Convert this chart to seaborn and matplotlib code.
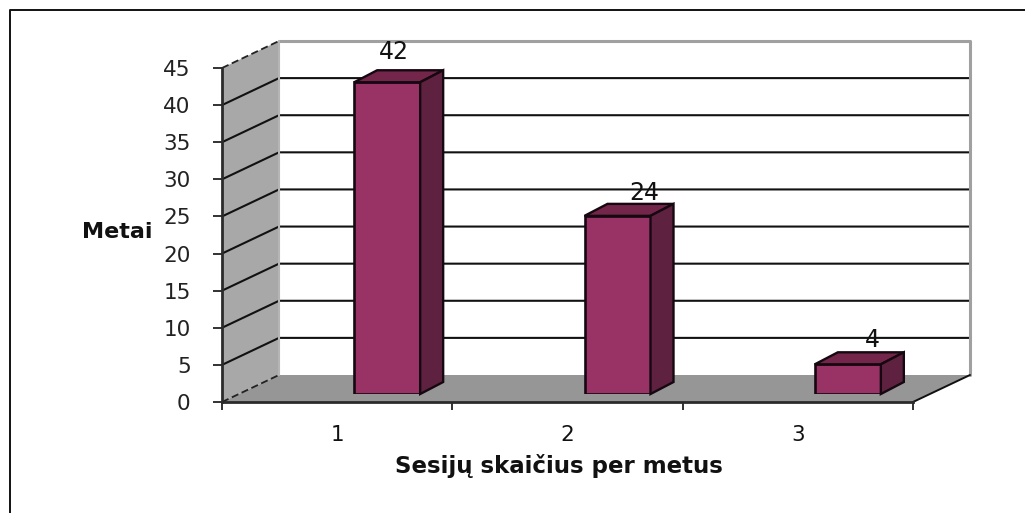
import numpy as np
import pandas as pd
import matplotlib.pyplot as plt
from matplotlib.lines import Line2D
from matplotlib.patches import Polygon
import seaborn as sns

# Data
sessions = ["1", "2", "3"]
years = [42, 24, 4]
y_ticks = [0, 5, 10, 15, 20, 25, 30, 35, 40, 45]

W, H = 1025, 513


def fig_box(left, right, bottom, top):
    # pixel box (from image top) to figure fractions
    return [left / W, (H - bottom) / H, (right - left) / W, (bottom - top) / H]


def main():
    sns.set_theme(style="white")
    plt.rcParams["font.family"] = ["DejaVu Sans"]
    df = pd.DataFrame({"sessions": sessions, "years": years})

    fig = plt.figure(figsize=(W / 100, H / 100), dpi=100, facecolor="white")
    ax = fig.add_axes(fig_box(222, 913, 402, 68))
    ax.set_xlim(-0.5, 2.5)
    ax.set_ylim(0, 45)
    ax.patch.set_alpha(0)

    # depth of the fake 3D box, in data units
    dx = 57 / (691 / 3)
    dy = 27 / (334 / 45)
    x0, x1 = -0.5, 2.5

    # Walls and floor
    ax.add_patch(Polygon([(x0, 0), (x0 + dx, dy), (x0 + dx, 45 + dy), (x0, 45)],
                         fc="#a8a8a8", ec="none", clip_on=False, zorder=1))
    ax.add_patch(Polygon([(x0, 0), (x0 + dx, dy), (x1 + dx, dy), (x1, 0)],
                         fc="#969696", ec="none", clip_on=False, zorder=1))

    # Gridlines run up the side wall, then along the back wall
    for v in y_ticks[1:-1]:
        ax.plot([x0, x0 + dx, x1 + dx], [v, v + dy, v + dy], color="#111111",
                lw=1.5, clip_on=False, zorder=2)
    ax.plot([x0 + dx, x1 + dx, x1 + dx], [45 + dy, 45 + dy, dy], color="#a0a0a0",
            lw=2.2, clip_on=False, zorder=2)
    ax.plot([x0, x0 + dx], [45, 45 + dy], color="#222222", lw=1.3, ls=(0, (4, 2)),
            clip_on=False, zorder=3)
    ax.plot([x0, x0 + dx], [0, dy], color="#222222", lw=1.3, ls=(0, (4, 2)),
            clip_on=False, zorder=3)
    ax.plot([x0 + dx, x0 + dx], [dy, 45 + dy], color="#b5b5b5", lw=1.5,
            clip_on=False, zorder=2)
    ax.plot([x1, x1 + dx], [0, dy], color="#111111", lw=1.4, clip_on=False, zorder=3)

    # Axes furniture
    sns.despine(ax=ax, top=True, right=True)
    for side in ["left", "bottom"]:
        ax.spines[side].set_color("#2b2b2b")
        ax.spines[side].set_linewidth(2.0)
        ax.spines[side].set_zorder(4)
    ax.set_yticks(y_ticks)
    ax.set_xticks([-0.5, 0.5, 1.5, 2.5])
    ax.set_xticklabels([])
    ax.set_xticks([0, 1, 2], labels=sessions, minor=True)
    ax.tick_params(axis="x", which="major", bottom=True, length=5.8, width=1.3,
                   color="#222222")
    ax.tick_params(axis="x", which="minor", bottom=False, pad=12.5, labelsize=15.5,
                   labelcolor="#111111")
    ax.tick_params(axis="y", left=True, length=6.5, width=1.3, color="#222222", pad=16,
                   labelsize=15.5, labelcolor="#222222")
    ax.set_xlabel("Sesijų skaičius per metus", fontsize=16.5, fontweight="bold",
                  color="#111111")
    ax.xaxis.set_label_coords((559 - 222) / 691, (402 - 454) / 334)
    ax.set_ylabel("Metai", fontsize=16, fontweight="bold", color="#111111",
                  rotation=0, ha="right", va="center")
    ax.yaxis.set_label_coords((153 - 222) / 691, (402 - 232) / 334)

    # Bars sit inside the box, so they get their own shifted axes
    bar_ax = fig.add_axes(fig_box(272, 963, 394, 60))
    bar_ax.patch.set_alpha(0)
    bar_w = 66 / (691 / 3)
    sns.barplot(data=df, x="sessions", y="years", color="#993366", saturation=1,
                width=bar_w, edgecolor="#160810", linewidth=1.9, ax=bar_ax, zorder=5)
    bar_ax.set_xlim(-0.5, 2.5)
    bar_ax.set_ylim(0, 45)
    bar_ax.axis("off")

    # Top and side faces
    ox = 23 / (691 / 3)
    oy = 12 / (334 / 45)
    label_shift = [7, 27, 25]
    label_rise = [30, 23, 24]
    for i, v in enumerate(years):
        l, r = i - bar_w / 2, i + bar_w / 2
        bar_ax.add_patch(Polygon([(l, v), (r, v), (r + ox, v + oy), (l + ox, v + oy)],
                                 fc="#732649", ec="#160810", lw=1.7, clip_on=False, zorder=6))
        bar_ax.add_patch(Polygon([(r, 0), (r + ox, oy), (r + ox, v + oy), (r, v)],
                                 fc="#5e2240", ec="#160810", lw=1.7, clip_on=False, zorder=6))
        bar_ax.annotate(str(v), (i, v), xytext=(label_shift[i] * 0.72, label_rise[i] * 0.72),
                        textcoords="offset points", ha="center", va="center",
                        fontsize=17, color="#111111", zorder=7, annotation_clip=False)

    # Frame left over from the document page
    fig.add_artist(Line2D([10 / W, 10 / W, 1], [0, 1 - 9.5 / H, 1 - 9.5 / H],
                          color="#111111", lw=1.4))

    plt.savefig("out.png", dpi=100)


if __name__ == "__main__":
    main()
